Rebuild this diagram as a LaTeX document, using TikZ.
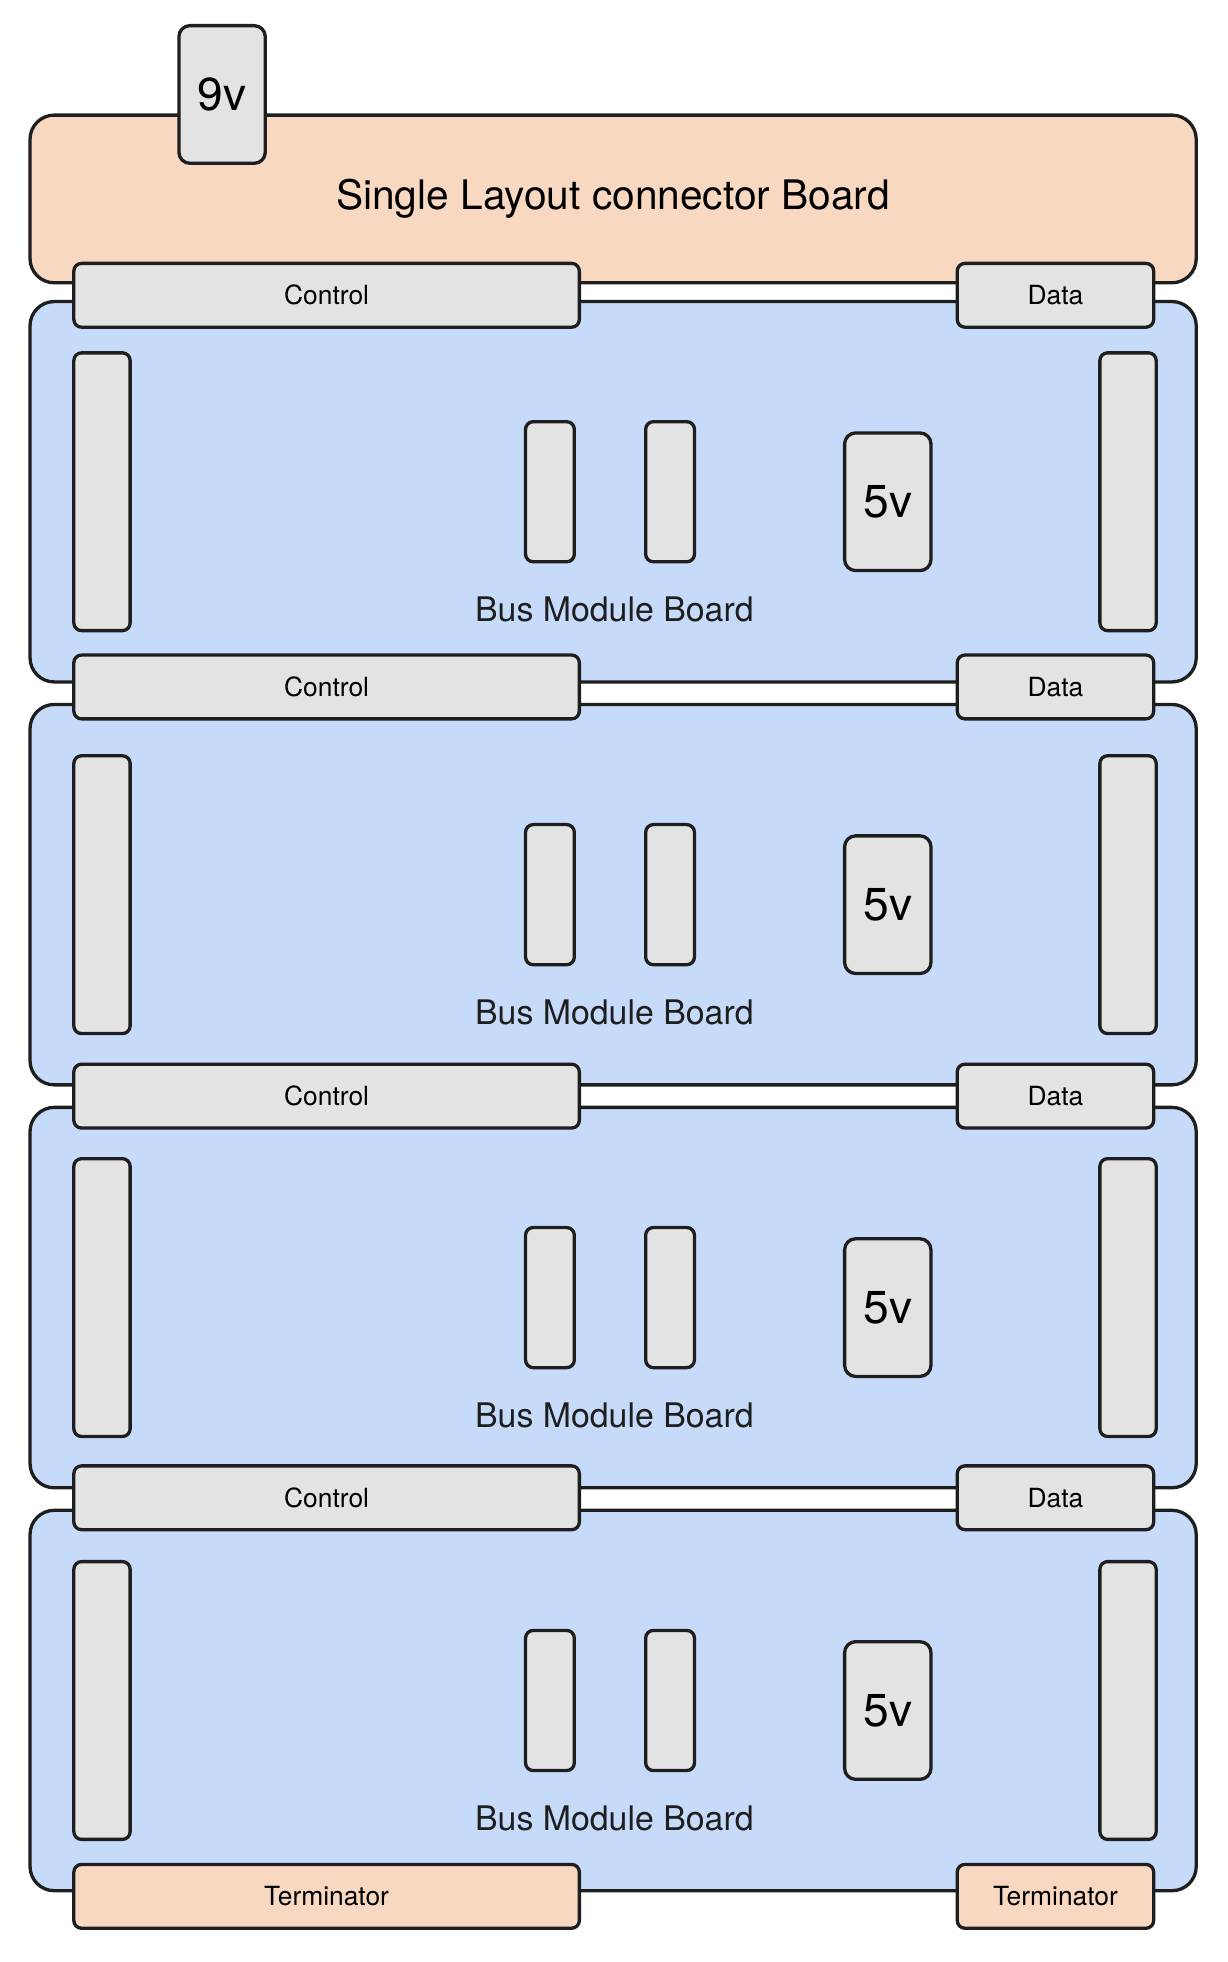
\documentclass[tikz,border=0pt]{standalone}
\usepackage{fontspec}
\setmainfont{TeX Gyre Heros}
\definecolor{ink}{RGB}{30,30,30}
\definecolor{peach}{RGB}{248,216,193}
\definecolor{bluebd}{RGB}{198,219,249}
\definecolor{slotgray}{RGB}{227,227,227}

\begin{document}
\begin{tikzpicture}[
    mainboard/.style={rectangle, rounded corners=11pt, draw=ink, fill=peach, line width=1.5pt, minimum width=18.64cm, minimum height=2.68cm, font=\fontsize{18.5}{20}\selectfont},
    busboard/.style={rectangle, rounded corners=11pt, draw=ink, fill=bluebd, line width=1.5pt, minimum width=18.64cm, minimum height=6.08cm},
    slot/.style={rectangle, rounded corners=3.5pt, draw=ink, fill=slotgray, line width=1.5pt, minimum width=0.9cm, minimum height=4.44cm},
    chip/.style={rectangle, rounded corners=3.5pt, draw=ink, fill=slotgray, line width=1.5pt, minimum width=0.78cm, minimum height=2.24cm},
    volt/.style={rectangle, rounded corners=5pt, draw=ink, fill=slotgray, line width=1.5pt, minimum width=1.38cm, minimum height=2.2cm, font=\fontsize{21}{24}\selectfont},
    ctrl/.style={rectangle, rounded corners=3.5pt, draw=ink, fill=slotgray, line width=1.5pt, minimum width=8.08cm, minimum height=1.02cm, font=\fontsize{12}{14}\selectfont},
    data/.style={ctrl, minimum width=3.14cm},
    term/.style={ctrl, fill=peach},
    boardlbl/.style={font=\fontsize{15.4}{18}\selectfont, text=ink}
  ]
    \useasboundingbox (0,0) rectangle (19.62,-31.36);
    % top connector board
    \node[mainboard] (top) at (9.8, -3.18) {Single Layout connector Board};
    \node[volt] (v9) at (3.55, -1.51) {9v};
    % bus module boards
    \node[busboard] (b1) at (9.8, -7.86) {};
    \node[busboard] (b2) at (9.8, -14.30) {};
    \node[busboard] (b3) at (9.8, -20.74) {};
    \node[busboard] (b4) at (9.8, -27.18) {};
    % board 1
    \node[slot] (b1l) at (1.63, -7.86) {};
    \node[slot] (b1r) at (18.03, -7.86) {};
    \node[chip] (b1c1) at (8.79, -7.86) {};
    \node[chip] (b1c2) at (10.71, -7.86) {};
    \node[volt] (b1v) at (14.19, -8.02) {5v};
    \node[boardlbl] (b1t) at (9.82, -9.74) {Bus Module Board};
    % board 2
    \node[slot] (b2l) at (1.63, -14.30) {};
    \node[slot] (b2r) at (18.03, -14.30) {};
    \node[chip] (b2c1) at (8.79, -14.30) {};
    \node[chip] (b2c2) at (10.71, -14.30) {};
    \node[volt] (b2v) at (14.19, -14.46) {5v};
    \node[boardlbl] (b2t) at (9.82, -16.18) {Bus Module Board};
    % board 3
    \node[slot] (b3l) at (1.63, -20.74) {};
    \node[slot] (b3r) at (18.03, -20.74) {};
    \node[chip] (b3c1) at (8.79, -20.74) {};
    \node[chip] (b3c2) at (10.71, -20.74) {};
    \node[volt] (b3v) at (14.19, -20.90) {5v};
    \node[boardlbl] (b3t) at (9.82, -22.62) {Bus Module Board};
    % board 4
    \node[slot] (b4l) at (1.63, -27.18) {};
    \node[slot] (b4r) at (18.03, -27.18) {};
    \node[chip] (b4c1) at (8.79, -27.18) {};
    \node[chip] (b4c2) at (10.71, -27.18) {};
    \node[volt] (b4v) at (14.19, -27.34) {5v};
    \node[boardlbl] (b4t) at (9.82, -29.06) {Bus Module Board};
    % control and data connectors between boards
    \node[ctrl] (c1) at (5.22, -4.72) {Control};
    \node[data] (d1) at (16.87, -4.72) {Data};
    \node[ctrl] (c2) at (5.22, -10.98) {Control};
    \node[data] (d2) at (16.87, -10.98) {Data};
    \node[ctrl] (c3) at (5.22, -17.52) {Control};
    \node[data] (d3) at (16.87, -17.52) {Data};
    \node[ctrl] (c4) at (5.22, -23.94) {Control};
    \node[data] (d4) at (16.87, -23.94) {Data};
    % terminators
    \node[term] (t1) at (5.22, -30.31) {Terminator};
    \node[term, minimum width=3.14cm] (t2) at (16.87, -30.31) {Terminator};
  \end{tikzpicture}
\end{document}
